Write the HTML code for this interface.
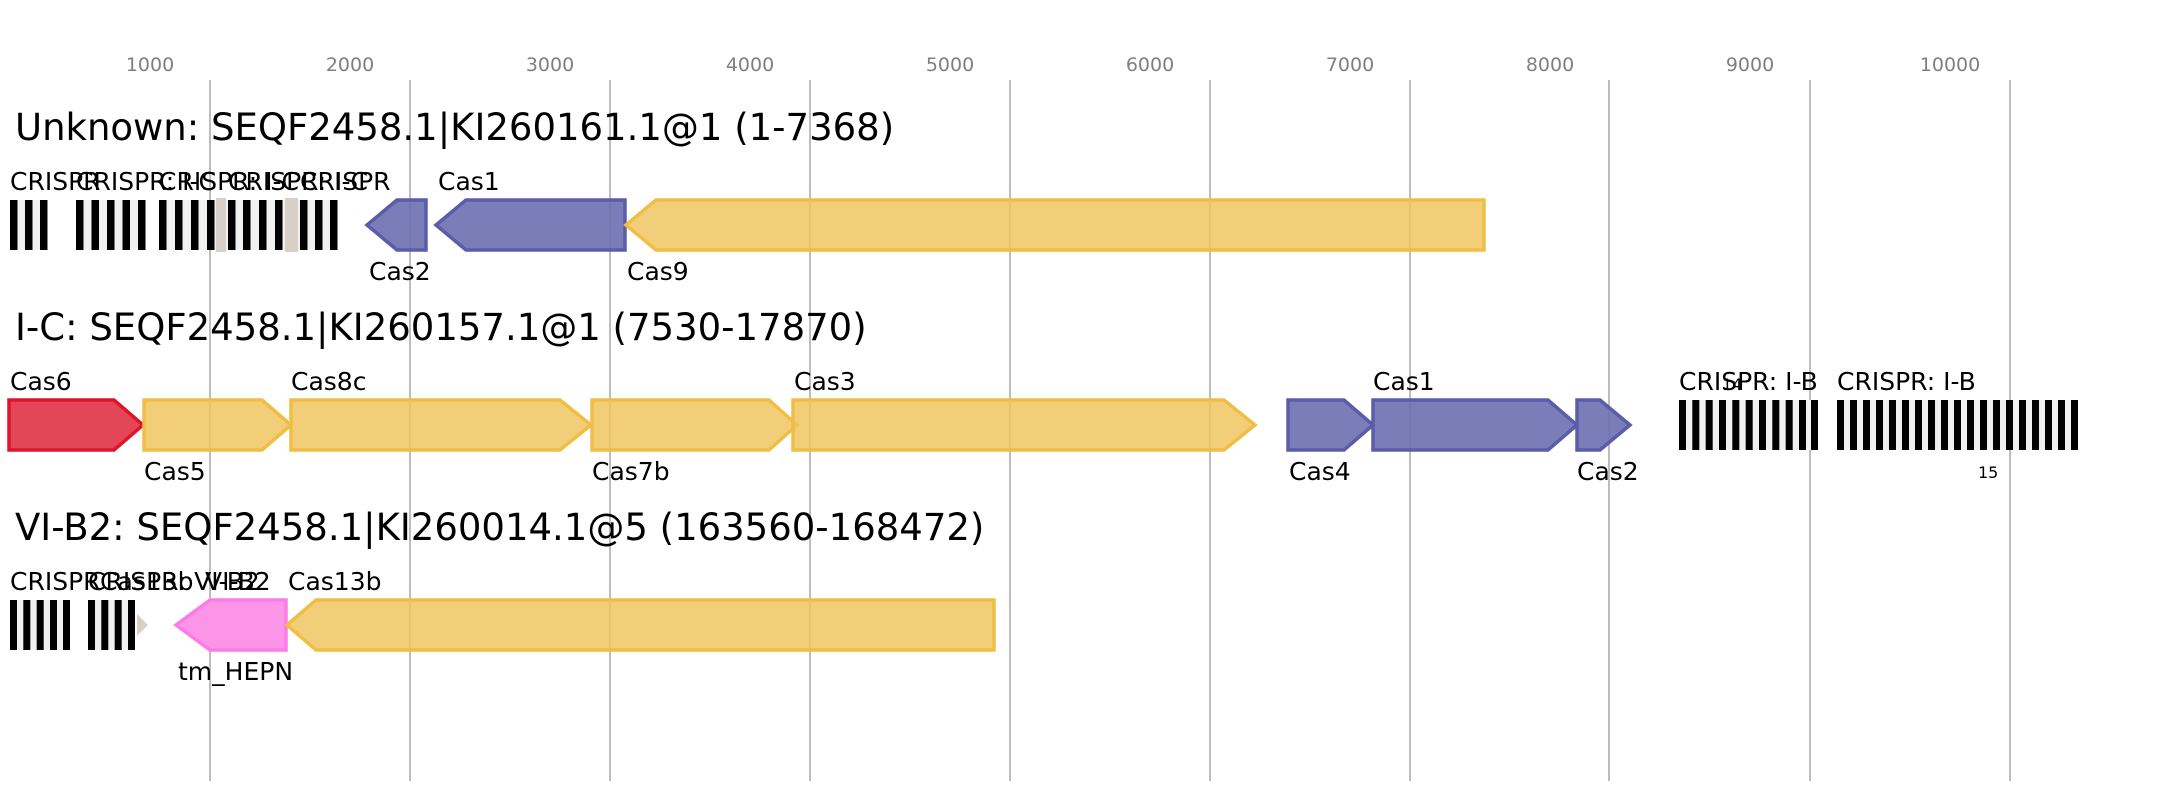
<!DOCTYPE html>
<html><head><meta charset="utf-8"><style>
html,body{margin:0;padding:0;background:#fff;}
svg{display:block;font-family:"DejaVu Sans","Liberation Sans",sans-serif;}
.ax{fill:#808080;font-size:19px;text-anchor:middle}
.tt{font-size:37px;fill:#000}
.lb{font-size:25px;fill:#000}
.sm{font-size:16px;fill:#000}
.y{fill:#f0c660;fill-opacity:.85;stroke:#f0be44;stroke-width:3.5}
.p{fill:#6b6fb0;fill-opacity:.9;stroke:#5a5da8;stroke-width:3.5}
.r{fill:#e34656;stroke:#e0142a;stroke-width:3.5}
.k{fill:#fc94e8;stroke:#fc7ce6;stroke-width:3.5}
</style></head><body>
<svg width="2168" height="800" viewBox="0 0 2168 800">
<g stroke="#bdbdbd" stroke-width="2">
<line x1="210" y1="80" x2="210" y2="781"/><line x1="410" y1="80" x2="410" y2="781"/>
<line x1="610" y1="80" x2="610" y2="781"/><line x1="810" y1="80" x2="810" y2="781"/>
<line x1="1010" y1="80" x2="1010" y2="781"/><line x1="1210" y1="80" x2="1210" y2="781"/>
<line x1="1410" y1="80" x2="1410" y2="781"/><line x1="1609" y1="80" x2="1609" y2="781"/>
<line x1="1810" y1="80" x2="1810" y2="781"/><line x1="2010" y1="80" x2="2010" y2="781"/>
</g>
<g class="ax">
<text x="150" y="71">1000</text><text x="350" y="71">2000</text><text x="550" y="71">3000</text>
<text x="750" y="71">4000</text><text x="950" y="71">5000</text><text x="1150" y="71">6000</text>
<text x="1350" y="71">7000</text><text x="1550" y="71">8000</text><text x="1750" y="71">9000</text>
<text x="1950" y="71">10000</text>
</g>

<!-- Row 1 -->
<text class="tt" x="15" y="140">Unknown: SEQF2458.1|KI260161.1@1 (1-7368)</text>
<g class="lb">
<text x="10" y="190">CRISPR</text><text x="76" y="190">CRISPR: I-C</text>
<text x="159" y="190">CRISPR: I-C</text><text x="228" y="190">CRISPR: I-C</text>
<text x="300" y="190">CRISPR</text>
<text x="438" y="190">Cas1</text>
<text x="369" y="280">Cas2</text><text x="627" y="280">Cas9</text>
</g>
<rect x="10" y="200" width="37" height="50" fill="#f0f0f0"/>
<rect x="76" y="200" width="70" height="50" fill="#f0f0f0"/>
<rect x="159" y="200" width="178" height="50" fill="#f0f0f0"/>
<g fill="#000">
<rect x="10" y="200" width="7.5" height="50"/><rect x="25" y="200" width="7.5" height="50"/><rect x="40" y="200" width="7.5" height="50"/>
<rect x="76" y="200" width="7.5" height="50"/><rect x="91.5" y="200" width="7.5" height="50"/><rect x="107" y="200" width="7.5" height="50"/><rect x="122.5" y="200" width="7.5" height="50"/><rect x="138" y="200" width="7.5" height="50"/>
<rect x="159" y="200" width="7.5" height="50"/><rect x="175" y="200" width="7.5" height="50"/><rect x="191" y="200" width="7.5" height="50"/><rect x="207" y="200" width="7.5" height="50"/>
<rect x="228" y="200" width="7.5" height="50"/><rect x="243" y="200" width="7.5" height="50"/><rect x="259" y="200" width="7.5" height="50"/><rect x="275" y="200" width="7.5" height="50"/>
<rect x="300" y="200" width="7.5" height="50"/><rect x="315" y="200" width="7.5" height="50"/><rect x="330" y="200" width="7.5" height="50"/>
</g>
<rect x="216" y="198" width="10" height="54" fill="#d8cfc8"/>
<rect x="285" y="198" width="13" height="54" fill="#d8cfc8"/>
<polygon class="p" points="367,225 397,200 426,200 426,250 397,250"/>
<polygon class="p" points="436,225 466,200 625,200 625,250 466,250"/>
<polygon class="y" points="626,225 656,200 1484,200 1484,250 656,250"/>

<!-- Row 2 -->
<text class="tt" x="15" y="340">I-C: SEQF2458.1|KI260157.1@1 (7530-17870)</text>
<g class="lb">
<text x="10" y="390">Cas6</text><text x="291" y="390">Cas8c</text><text x="794" y="390">Cas3</text>
<text x="1373" y="390">Cas1</text>
<text x="1679" y="390">CRISPR: I-B</text><text x="1837" y="390">CRISPR: I-B</text>
<text x="144" y="480">Cas5</text><text x="592" y="480">Cas7b</text><text x="1289" y="480">Cas4</text>
<text x="1577" y="480">Cas2</text>
</g>
<text class="sm" x="1722" y="390">14</text>
<text class="sm" x="1978" y="478">15</text>
<polygon class="r" points="9,400 114,400 143,425 114,450 9,450"/>
<polygon class="y" points="144,400 262,400 291,425 262,450 144,450"/>
<polygon class="y" points="291,400 560,400 591,425 560,450 291,450"/>
<polygon class="y" points="592,400 769,400 797,425 769,450 592,450"/>
<polygon class="y" points="793,400 1224,400 1255,425 1224,450 793,450"/>
<polygon class="p" points="1288,400 1344,400 1373,425 1344,450 1288,450"/>
<polygon class="p" points="1373,400 1548,400 1577,425 1548,450 1373,450"/>
<polygon class="p" points="1577,400 1600,400 1630,425 1600,450 1577,450"/>
<rect x="1679" y="400" width="139" height="50" fill="#f0f0f0"/>
<rect x="1837" y="400" width="241" height="50" fill="#f0f0f0"/>
<g fill="#000">
<rect x="1679" y="400" width="7" height="50"/><rect x="1692.3" y="400" width="7" height="50"/><rect x="1705.7" y="400" width="7" height="50"/><rect x="1719" y="400" width="7" height="50"/><rect x="1732.3" y="400" width="7" height="50"/><rect x="1745.7" y="400" width="7" height="50"/><rect x="1759" y="400" width="7" height="50"/><rect x="1772.3" y="400" width="7" height="50"/><rect x="1785.7" y="400" width="7" height="50"/><rect x="1799" y="400" width="7" height="50"/><rect x="1811" y="400" width="7" height="50"/>
<rect x="1837" y="400" width="7" height="50"/><rect x="1850" y="400" width="7" height="50"/><rect x="1863" y="400" width="7" height="50"/><rect x="1876" y="400" width="7" height="50"/><rect x="1889" y="400" width="7" height="50"/><rect x="1902" y="400" width="7" height="50"/><rect x="1915" y="400" width="7" height="50"/><rect x="1928" y="400" width="7" height="50"/><rect x="1941" y="400" width="7" height="50"/><rect x="1954" y="400" width="7" height="50"/><rect x="1967" y="400" width="7" height="50"/><rect x="1980" y="400" width="7" height="50"/><rect x="1993" y="400" width="7" height="50"/><rect x="2006" y="400" width="7" height="50"/><rect x="2019" y="400" width="7" height="50"/><rect x="2032" y="400" width="7" height="50"/><rect x="2045" y="400" width="7" height="50"/><rect x="2058" y="400" width="7" height="50"/><rect x="2071" y="400" width="7" height="50"/>
</g>

<!-- Row 3 -->
<text class="tt" x="15" y="540">VI-B2: SEQF2458.1|KI260014.1@5 (163560-168472)</text>
<g class="lb">
<text x="10" y="590">CRISPR</text><text x="88" y="590">CRISPR: VI-B2</text>
<text x="100" y="590">Cas13b</text>
<text x="205" y="590">VI-B2</text>
<text x="288" y="590">Cas13b</text>
<text x="178" y="680">tm_HEPN</text>
</g>
<rect x="10" y="600" width="60" height="50" fill="#f0f0f0"/>
<rect x="88" y="600" width="47" height="50" fill="#f0f0f0"/>
<g fill="#000">
<rect x="10" y="600" width="7" height="50"/><rect x="23.3" y="600" width="7" height="50"/><rect x="36.7" y="600" width="7" height="50"/><rect x="50" y="600" width="7" height="50"/><rect x="63" y="600" width="7" height="50"/>
<rect x="88" y="600" width="7" height="50"/><rect x="101.3" y="600" width="7" height="50"/><rect x="114.7" y="600" width="7" height="50"/><rect x="128" y="600" width="7" height="50"/>
</g>
<polygon points="137,614 148,625 137,636" fill="#d8cfc8"/>
<polygon class="k" points="176,625 210,600 286,600 286,650 210,650"/>
<polygon class="y" points="287,625 316,600 994,600 994,650 316,650"/>
</svg>
</body></html>
